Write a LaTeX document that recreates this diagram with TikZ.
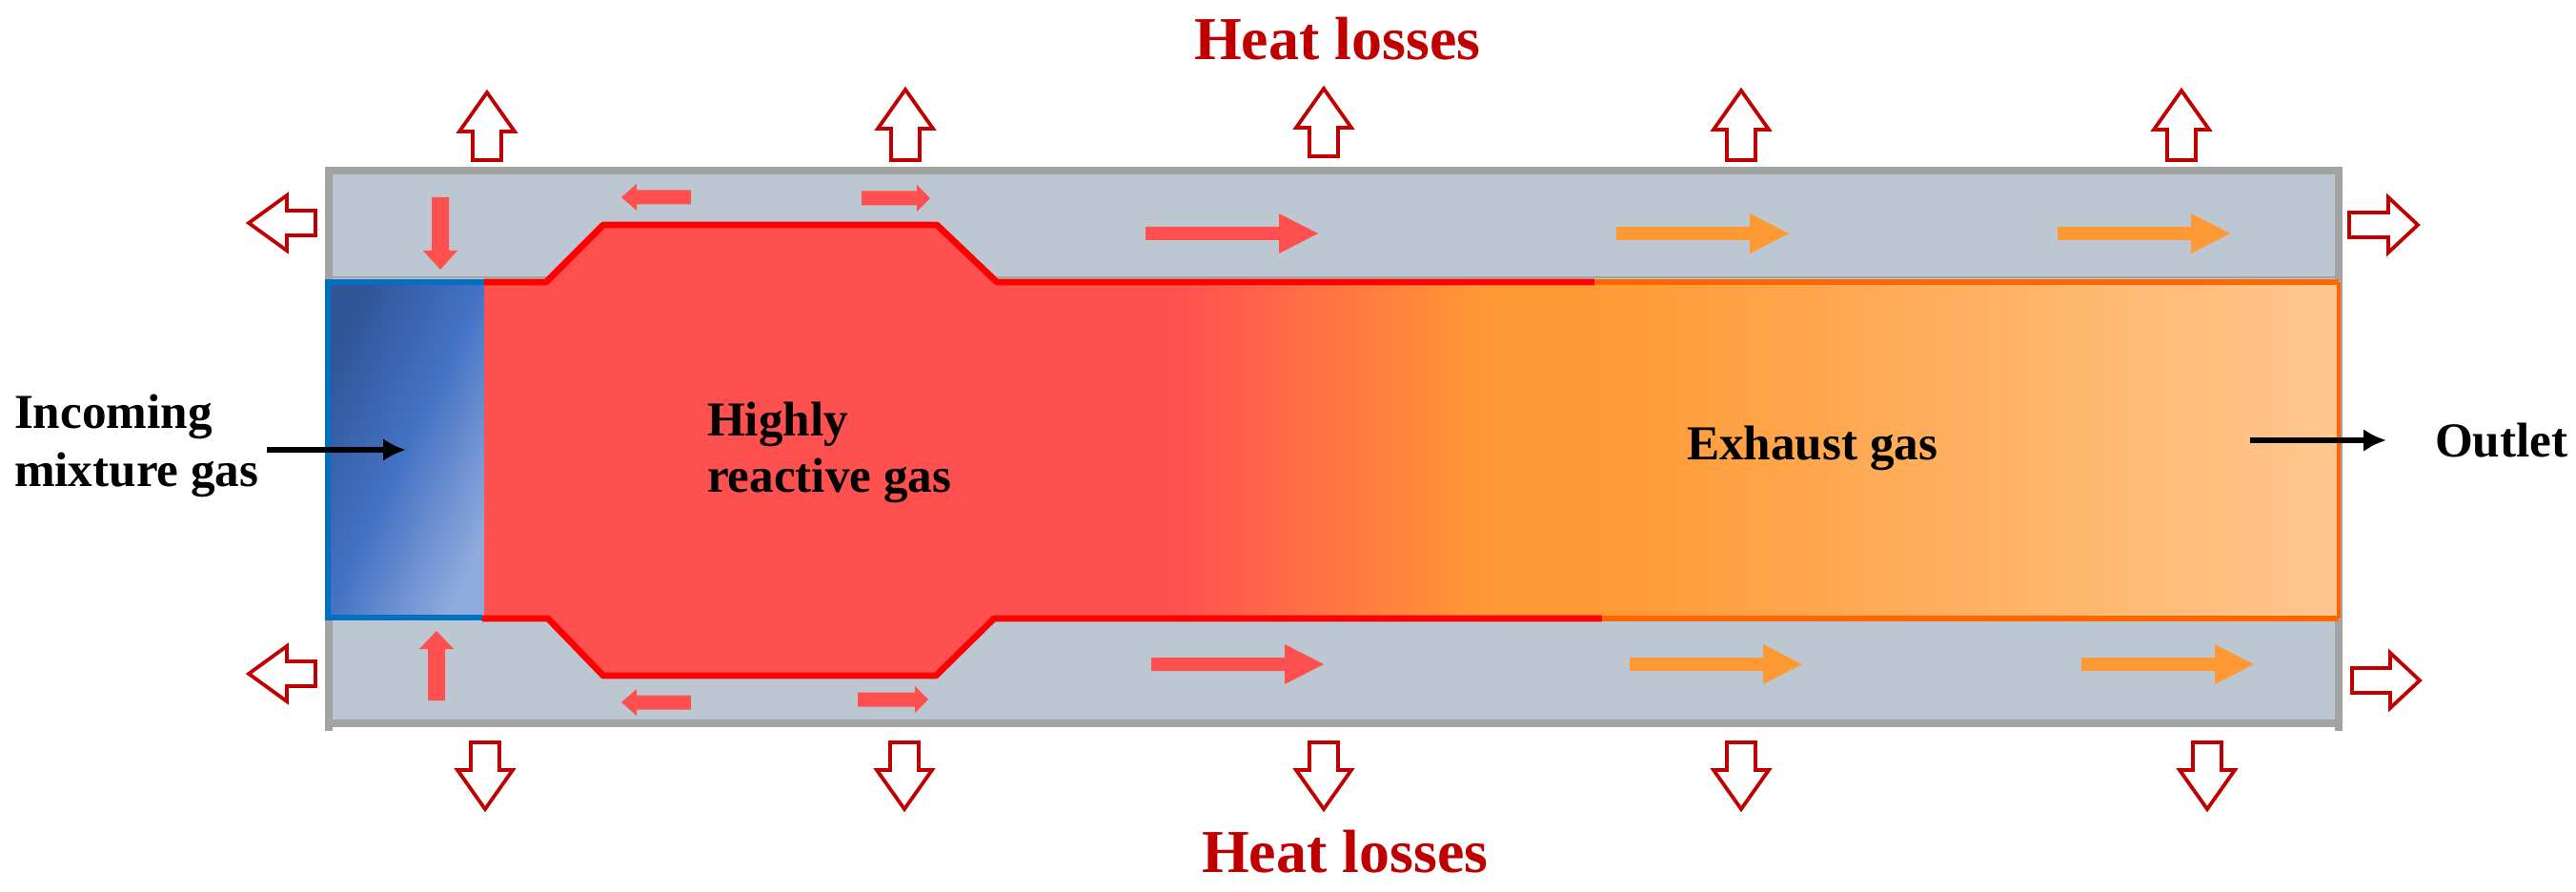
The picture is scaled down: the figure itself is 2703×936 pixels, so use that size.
\documentclass[tikz,border=0pt]{standalone}
\usepackage{fontspec}
\setmainfont{Liberation Serif}
\definecolor{wallfill}{HTML}{BDC7D1}
\definecolor{wallline}{HTML}{A3A3A3}
\definecolor{hotred}{HTML}{FF5050}
\definecolor{edgered}{HTML}{FF0000}
\definecolor{midorange}{HTML}{FF9933}
\definecolor{paleorange}{HTML}{FFC78F}
\definecolor{edgeorange}{HTML}{FF6600}
\definecolor{edgeblue}{HTML}{0070C0}
\definecolor{darkblue}{HTML}{2F5597}
\definecolor{midblue}{HTML}{4472C4}
\definecolor{paleblue}{HTML}{8FAADC}
\definecolor{lossred}{HTML}{C00000}
\usetikzlibrary{arrows.meta}
\tikzset{
  x=0.5pt,y=-0.5pt,
  hollow/.style={draw=lossred,fill=white,line width=1.9pt,line join=miter},
  solidred/.style={fill=hotred},
  solidorange/.style={fill=midorange},
  label/.style={font=\fontsize{25.6}{30}\selectfont\bfseries,anchor=base west,inner sep=0pt,outer sep=0pt,text=black},
  heat/.style={font=\fontsize{32}{38}\selectfont\bfseries,anchor=base west,inner sep=0pt,outer sep=0pt,text=lossred},
  flowblack/.style={draw=black,line width=3.4pt,-{Latex[length=12pt,width=12pt]}},
}
% #1 style, #2 x of base, #3 y of base, #4 angle, #5 length, #6 shaft half, #7 head half, #8 head length
\newcommand{\blockarrow}[8]{%
  \path[#1,shift={(#2,#3)},rotate=#4]
    (0,-#6) -- ({#5-#8},-#6) -- ({#5-#8},-#7) -- (#5,0) -- ({#5-#8},#7) -- ({#5-#8},#6) -- (0,#6) -- cycle;}
\begin{document}
\begin{tikzpicture}
\useasboundingbox (0,0) rectangle (2703,936);
\fill[white] (0,0) rectangle (2703,936);
% wall
\fill[wallfill] (343,177) rectangle (2455,763);
\draw[wallline,line width=4pt] (345,767) -- (345,179) -- (2454,179) -- (2454,767);
\draw[wallline,line width=4pt] (345,759) -- (2454,759);
\draw[wallline,line width=1.2pt] (343,291) -- (2455,291);
% gas bodies
\fill[hotred] (508,296) -- (573,296) -- (633,236) -- (983,236) -- (1046,296) -- (1234,296) -- (1234,649) -- (1043,649) -- (982,709) -- (633,709) -- (575,649) -- (508,649) -- cycle;
\shade[left color=hotred,right color=midorange] (1233,296) rectangle (1560,649);
\fill[midorange] (1559,296) rectangle (1674,649);
\shade[left color=midorange,right color=paleorange] (1673,296) rectangle (2455,649);
\shade[top color=darkblue,bottom color=paleblue,middle color=midblue,shading angle=65] (343,294) rectangle (508,649);
% outlines
\draw[edgeblue,line width=3.4pt] (508,296) -- (344,296) -- (344,648) -- (506,648);
\draw[edgered,line width=3.4pt,line join=round] (508,296) -- (573,296) -- (633,236) -- (983,236) -- (1046,296) -- (1673,296);
\draw[edgered,line width=3.4pt,line join=round] (506,649) -- (575,649) -- (633,709) -- (982,709) -- (1043,649) -- (1681,649);
\draw[edgeorange,line width=2.6pt] (1673,296) -- (2454,296);
\draw[edgeorange,line width=2.6pt] (2454,649) -- (1681,649);
\draw[edgeorange,line width=1.8pt] (2454,296) -- (2454,649);
% heat-loss arrows
\blockarrow{hollow}{511}{168}{90}{71}{15}{29}{41}
\blockarrow{hollow}{950}{168}{90}{74}{15}{29}{41}
\blockarrow{hollow}{1389}{164}{90}{71}{15}{29}{41}
\blockarrow{hollow}{1827}{168}{90}{73}{15}{29}{41}
\blockarrow{hollow}{2289}{168}{90}{73}{15}{29}{41}
\blockarrow{hollow}{509}{779}{270}{70}{15}{29}{41}
\blockarrow{hollow}{949}{779}{270}{70}{15}{29}{41}
\blockarrow{hollow}{1389}{779}{270}{70}{15}{29}{41}
\blockarrow{hollow}{1827}{779}{270}{70}{15}{29}{41}
\blockarrow{hollow}{2316}{779}{270}{70}{15}{29}{41}
\blockarrow{hollow}{331}{234}{180}{70}{13}{29}{40}
\blockarrow{hollow}{331}{707}{180}{70}{13}{29}{40}
\blockarrow{hollow}{2465}{236}{0}{72}{13}{29}{31}
\blockarrow{hollow}{2468}{714}{0}{71}{13}{29}{31}
% conduction arrows
\blockarrow{solidred}{462}{207}{270}{76}{9}{18}{20}
\blockarrow{solidred}{458}{735}{90}{73}{9}{18}{19}
\blockarrow{solidred}{725}{207}{180}{73}{7.5}{14}{16}
\blockarrow{solidred}{904}{208}{0}{72}{7.5}{14}{14}
\blockarrow{solidred}{725}{737}{180}{73}{7.5}{14}{16}
\blockarrow{solidred}{900}{734}{0}{74}{7.5}{14}{14}
\blockarrow{solidred}{1202}{245}{0}{181}{7}{21}{41}
\blockarrow{solidred}{1208}{697}{0}{181}{7}{21}{41}
\blockarrow{solidorange}{1696}{245}{0}{181}{7}{21}{41}
\blockarrow{solidorange}{2159}{245}{0}{181}{7}{21}{41}
\blockarrow{solidorange}{1710}{697}{0}{181}{7}{21}{41}
\blockarrow{solidorange}{2184}{697}{0}{181}{7}{21}{41}
% flow arrows
\coordinate (inA) at (280,472);
\coordinate (inB) at (426,472);
\coordinate (outA) at (2361,462);
\coordinate (outB) at (2504,462);
\draw[flowblack] (inA) -- (inB);
\draw[flowblack] (outA) -- (outB);
% labels
\node[heat] (heatTop) at (1253,63) {Heat losses};
\node[heat] (heatBottom) at (1261,915) {Heat losses};
\node[label] (incoming) at (15,449) {Incoming};
\node[label] (mixture) at (15,510) {mixture gas};
\node[label] (highly) at (742,457) {Highly};
\node[label] (reactive) at (742,516) {reactive gas};
\node[label] (exhaust) at (1770,482) {Exhaust gas};
\node[label] (outlet) at (2555,479) {Outlet};
\end{tikzpicture}
\end{document}
